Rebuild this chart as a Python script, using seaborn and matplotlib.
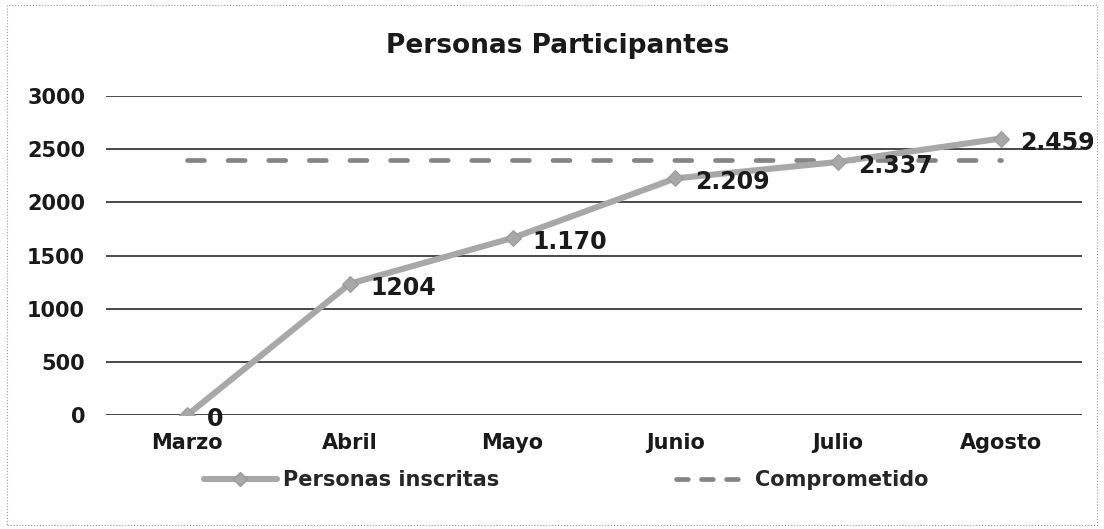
import matplotlib
matplotlib.use("Agg")
import matplotlib.pyplot as plt
import seaborn as sns
from matplotlib.lines import Line2D
from matplotlib.patches import Rectangle

meses = ["Marzo", "Abril", "Mayo", "Junio", "Julio", "Agosto"]
inscritas = [0, 1235, 1665, 2225, 2380, 2600]
etiquetas = ["0", "1204", "1.170", "2.209", "2.337", "2.459"]
comprometido = [2400, 2400, 2400, 2400, 2400, 2400]
y_ticks = [0, 500, 1000, 1500, 2000, 2500, 3000]

sns.set_style("white")
plt.rcParams["font.family"] = ["DejaVu Sans"]
plt.rcParams["font.weight"] = "bold"

fig = plt.figure(figsize=(11.04, 5.29), dpi=100)
ax = fig.add_axes([0.096, 0.2155, 0.884, 0.603])

color_linea = "#a8a8a8"
color_comp = "#858585"
color_txt = "#1a1a1a"

# meta comprometida (linea discontinua)
sns.lineplot(x=meses, y=comprometido, ax=ax, color=color_comp, linewidth=3.4,
             linestyle=(0, (3.6, 5.0)), dash_capstyle="round", sort=False, zorder=3)
# personas inscritas
sns.lineplot(x=meses, y=inscritas, ax=ax, color=color_linea, linewidth=4.4,
             marker="D", markersize=8, markeredgecolor="#999999", sort=False, zorder=4)

for i, (v, t) in enumerate(zip(inscritas, etiquetas)):
    ax.annotate(t, (i, v), xytext=(20, -4), textcoords="offset pixels",
                ha="left", va="center", fontsize=17, fontweight="bold", color=color_txt,
                zorder=5)

ax.set_ylim(0, 3000)
ax.set_xlim(-0.5, 5.5)
ax.set_yticks(y_ticks)
ax.set_yticklabels([str(v) for v in y_ticks], fontsize=15, fontweight="bold", color=color_txt)
ax.set_xticks(range(len(meses)))
ax.set_xticklabels(meses, fontsize=15, fontweight="bold", color=color_txt)
ax.tick_params(axis="y", length=0, pad=15)
ax.tick_params(axis="x", length=0, pad=13)
ax.yaxis.grid(True, color="#2a2a2a", linewidth=1.2)
ax.set_axisbelow(True)
for s in ax.spines.values():
    s.set_visible(False)
ax.set_xlabel("")
ax.set_ylabel("")

fig.text(0.505, 0.913, "Personas Participantes", ha="center", va="center",
         fontsize=19, fontweight="bold", color=color_txt)

handles = [
    Line2D([], [], color=color_linea, linewidth=4.4, marker="D", markersize=7,
           markeredgecolor="#999999"),
    Line2D([], [], color=color_comp, linewidth=3.4, linestyle=(0, (2.5, 2.8)),
           dash_capstyle="round"),
]
fig.legend(handles, ["Personas inscritas", "Comprometido"], loc="center",
           bbox_to_anchor=(0.513, 0.093), ncol=2, frameon=False, handlelength=3.5,
           handletextpad=0.3, columnspacing=8.5,
           prop={"size": 15, "weight": "bold"})

fig.patches.append(Rectangle((0.006, 0.008), 0.988, 0.982, transform=fig.transFigure,
                             fill=False, edgecolor="#9a9a9a", linewidth=0.8,
                             linestyle=":"))

fig.savefig("out.png", dpi=100)
